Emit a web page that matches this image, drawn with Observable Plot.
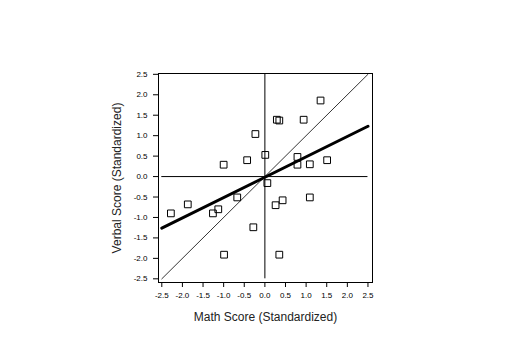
<!DOCTYPE html>
<html>
<head>
<meta charset="utf-8">
<script src="https://cdn.jsdelivr.net/npm/d3@7"></script>
<script src="https://cdn.jsdelivr.net/npm/@observablehq/plot@0.6"></script>
<style>
  html, body { margin: 0; padding: 0; background: #fff; }
</style>
</head>
<body>
<div id="chart"></div>
<script>
// Data
const mathScore = [1.35, 0.29, 0.35, 0.94, -0.23, 0.01, -0.43, -1.0, 0.79, 0.79, 1.09, 1.51,
                   0.06, -0.67, 0.26, 0.43, 1.09, -2.28, -1.87, -1.26, -1.13, -0.28, -0.99, 0.35];
const verbalScore = [1.86, 1.39, 1.37, 1.39, 1.04, 0.53, 0.40, 0.29, 0.48, 0.29, 0.30, 0.40,
                     -0.16, -0.51, -0.70, -0.58, -0.51, -0.90, -0.68, -0.90, -0.80, -1.24, -1.91, -1.91];
const fitX = [-2.5, 2.5];
const fitY = [-1.26, 1.23];
const identity = [-2.5, 2.5];
const tickValues = [-2.5, -2.0, -1.5, -1.0, -0.5, 0.0, 0.5, 1.0, 1.5, 2.0, 2.5];
const xTitle = "Math Score (Standardized)";
const yTitle = "Verbal Score (Standardized)";

const points = mathScore.map((m, i) => ({math: m, verbal: verbalScore[i]}));
const fitLine = fitX.map((x, i) => ({x, y: fitY[i]}));
const idLine = identity.map(v => ({x: v, y: v}));
const fmt = d => d.toFixed(1);

const chart = Plot.plot({
  width: 530,
  height: 354,
  marginLeft: 158,
  marginRight: 158,
  marginTop: 73,
  marginBottom: 72,
  style: {fontFamily: "'Liberation Sans', Arial, sans-serif", fontSize: "8px", background: "white", color: "black"},
  x: {domain: [-2.58, 2.61], ticks: tickValues, tickFormat: fmt, tickSize: 5, tickPadding: 5, label: null},
  y: {domain: [-2.59, 2.52], ticks: tickValues, tickFormat: fmt, tickSize: 5, tickPadding: 6, label: null},
  marks: [
    Plot.frame({stroke: "black"}),
    Plot.ruleX([0], {y1: -2.5, y2: 2.5, stroke: "black", strokeWidth: 1}),
    Plot.ruleY([0], {x1: -2.5, x2: 2.5, stroke: "black", strokeWidth: 1}),
    Plot.line(idLine, {x: "x", y: "y", stroke: "black", strokeWidth: 0.8}),
    Plot.line(fitLine, {x: "x", y: "y", stroke: "black", strokeWidth: 3}),
    Plot.dot(points, {x: "math", y: "verbal", symbol: "square", r: 3.8, stroke: "black", strokeWidth: 1, fill: "none"}),
    Plot.text([xTitle], {frameAnchor: "bottom", dy: 35, text: d => d, fontSize: 12, fill: "#222", textAnchor: "middle", lineAnchor: "middle"}),
    Plot.text([yTitle], {frameAnchor: "left", dx: -41, rotate: -90, text: d => d, fontSize: 12, fill: "#222", textAnchor: "middle", lineAnchor: "middle"})
  ]
});
document.getElementById("chart").appendChild(chart);
</script>
</body>
</html>
